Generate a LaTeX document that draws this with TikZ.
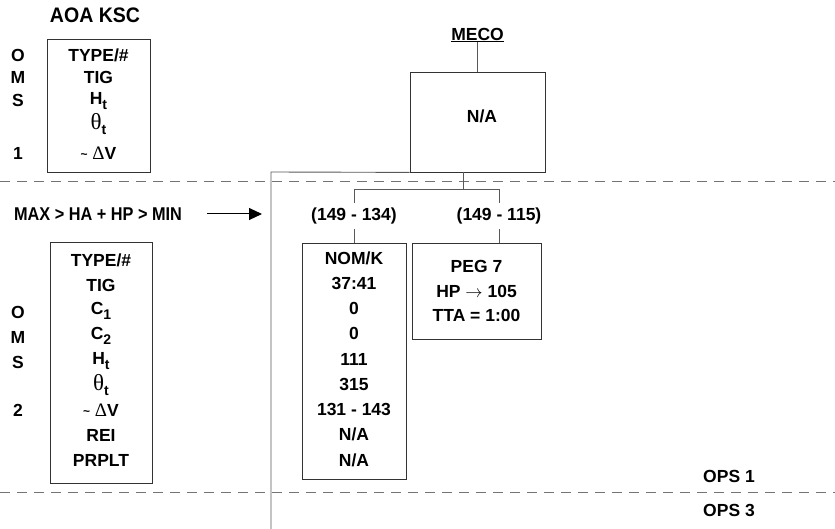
\documentclass[tikz,border=0pt]{standalone}
\usepackage{fontspec}
\setmainfont{Liberation Sans}
\newfontfamily\narrowf{Liberation Sans}[FakeStretch=0.93]
\newfontfamily\narrowerf{Liberation Sans}[FakeStretch=0.88]
\newfontfamily\greekf{Liberation Serif}
\usetikzlibrary{arrows.meta}
\newcommand{\sbt}{\raisebox{-4.5pt}{\fontsize{14}{14}\selectfont t}}
\newcommand{\thet}{{\greekf\mdseries\fontsize{23}{23}\selectfont θ}\sbt}
\newcommand{\dv}{{\fontsize{12}{12}\selectfont\raisebox{1pt}{\textasciitilde}}\ {\greekf\mdseries\fontsize{19}{19}\selectfont Δ}V}
\begin{document}
\begin{tikzpicture}[x=1pt,y=-1pt,
  box/.style={draw=black!80, line width=0.8pt, inner sep=0pt, rectangle},
  txt/.style={font=\bfseries\fontsize{17.5}{20}\selectfont, inner sep=0pt, anchor=center},
  big/.style={font=\narrowf\bfseries\fontsize{19}{22}\selectfont, inner sep=0pt},
  conn/.style={draw=black!65, line width=0.9pt},
  dline/.style={draw=black!55, line width=0.9pt, dash pattern=on 10pt off 7pt},
  lab/.style={txt, minimum height=26pt}
]
\useasboundingbox (0,0) rectangle (835,529);

% dashed separators
\coordinate (d1l) at (0,181); \coordinate (d1r) at (835,181);
\coordinate (d2l) at (0,492); \coordinate (d2r) at (835,492);
\draw[dline] (d1l) -- (d1r);
\draw[dline] (d2l) -- (d2r);

% OMS 1 block
\node[big, font=\narrowf\bfseries\fontsize{21}{24}\selectfont] (aoa) at (95,15) {AOA KSC};
\node[box, minimum width=103pt, minimum height=133pt] (b1) at (98.5,105.5) {};
\node[txt] (b1a) at (98.5,55) {TYPE/\#};
\node[txt] (b1b) at (98.5,77) {TIG};
\node[txt] (b1c) at (98.5,101) {H\sbt};
\node[txt] (b1d) at (98.5,124) {\thet};
\node[txt] (b1e) at (98.5,153) {\dv};
\node[txt] (o1) at (18,55) {O};
\node[txt] (m1) at (18,77) {M};
\node[txt] (s1) at (18,100) {S};
\node[txt] (n1) at (18,153) {1};

% OMS 2 block
\node[big, font=\narrowerf\bfseries\fontsize{18.5}{22}\selectfont] (maxt) at (98,214) {MAX > HA + HP > MIN};
\coordinate (arrEnd) at (262,214);
\draw[draw=black, line width=1pt, -{Triangle[length=13pt,width=12pt]}] (maxt.east) ++(25pt,0) -- (arrEnd);
\node[box, minimum width=102pt, minimum height=241pt] (b2) at (101,362.5) {};
\node[txt] (b2a) at (101,260) {TYPE/\#};
\node[txt] (b2b) at (101,285) {TIG};
\node[txt] (b2c) at (101,311) {C\raisebox{-4.5pt}{\fontsize{14}{14}\selectfont 1}};
\node[txt] (b2d) at (101,336) {C\raisebox{-4.5pt}{\fontsize{14}{14}\selectfont 2}};
\node[txt] (b2e) at (101,361) {H\sbt};
\node[txt] (b2f) at (101,385) {\thet};
\node[txt] (b2g) at (101,410) {\dv};
\node[txt] (b2h) at (101,435) {REI};
\node[txt] (b2i) at (101,460) {PRPLT};
\node[txt] (o2) at (18,312) {O};
\node[txt] (m2) at (18,337) {M};
\node[txt] (s2) at (18,362) {S};
\node[txt] (n2) at (18,410) {2};

% MECO
\node[txt] (meco) at (477.5,35) {\underline{MECO}};
\node[box, minimum width=135pt, minimum height=100pt] (mbox) at (477.5,122) {};
\node[txt] (mna) at (482,116) {N/A};
\draw[conn] (meco.south) -- (mbox.north);
\coordinate (vtop) at (271,172);
\coordinate (vbot) at (271,529);
\draw[conn] (mbox.south west) -- (vtop) -- (vbot);

% branches
\coordinate (br) at (463,172);
\coordinate (j) at (463,189);
\coordinate (jl) at (354,189);
\coordinate (jr) at (499,189);
\draw[conn] (br) -- (j);
\draw[conn] (jl) -- (jr);
\node[lab] (l1) at (354,216) {(149 - 134)};
\node[lab] (l2) at (499,216) {(149 - 115)};
\draw[conn] (jl) -- (l1.north);
\draw[conn] (jr) -- (l2.north);

% NOM/K box
\node[box, minimum width=104pt, minimum height=236pt] (nom) at (354,361) {};
\draw[conn] (l1.south) -- (nom.north);
\foreach \t [count=\i from 0] in {NOM/K,37:41,0,0,111,315,131 - 143,N/A,N/A}
  \node[txt] (nom\i) at (354,258+25.25*\i) {\t};

% PEG box
\node[box, minimum width=129pt, minimum height=96pt] (peg) at (476.5,291) {};
\draw[conn] (l2.south) -- (l2.south |- peg.north);
\node[txt] (p1) at (476.5,266) {PEG 7};
\node[txt] (p2) at (476.5,291) {HP $\rightarrow$ 105};
\node[txt] (p3) at (476.5,315) {TTA = 1:00};

% OPS labels
\node[txt] (ops1) at (729,476) {OPS 1};
\node[txt] (ops3) at (729,510) {OPS 3};
\end{tikzpicture}
\end{document}
